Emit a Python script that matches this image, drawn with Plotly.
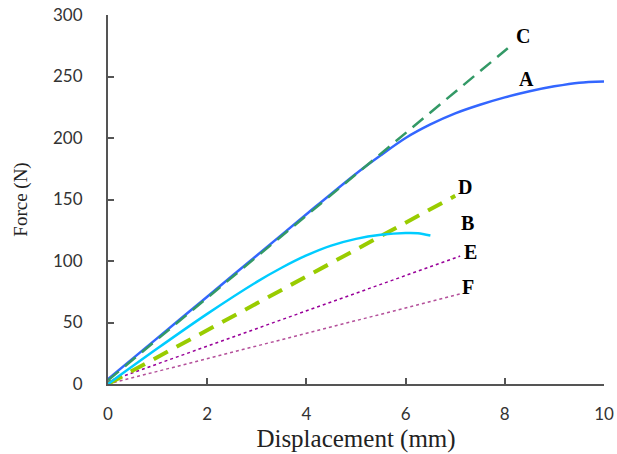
import plotly.graph_objects as go

# ---- data ----
A_x = [0, 1, 2, 3, 4, 5, 5.5, 6, 6.5, 7, 7.5, 8, 8.5, 9, 9.5, 10]
A_y = [4, 37.5, 71, 104.5, 138, 171, 186, 200, 211, 220, 227, 233, 238, 242, 245, 246]

B_x = [0, 1, 2, 3, 3.5, 4, 4.5, 5, 5.5, 6, 6.25, 6.5]
B_y = [0, 29, 57, 83, 94.5, 104.5, 112.5, 118, 121.3, 122.8, 122.6, 120.7]

C_x = [0, 8.06]
C_y = [3, 273]

D_x = [0, 7.0]
D_y = [0, 153]

E_x = [0, 7.1]
E_y = [2, 104]

F_x = [0, 7.13]
F_y = [0, 73.5]

label_names = ["C", "A", "D", "B", "E", "F"]
label_x = [8.37, 8.44, 7.2, 7.24, 7.3, 7.26]
label_y = [283, 248, 160, 131, 107, 79]

x_ticks = [0, 2, 4, 6, 8, 10]
y_ticks = [0, 50, 100, 150, 200, 250, 300]

fig = go.Figure()
fig.add_trace(go.Scatter(x=F_x, y=F_y, mode="lines",
                         line=dict(color="#B4509A", width=1.5, dash="3px,3px")))
fig.add_trace(go.Scatter(x=E_x, y=E_y, mode="lines",
                         line=dict(color="#990099", width=1.5, dash="3px,3px")))
fig.add_trace(go.Scatter(x=D_x, y=D_y, mode="lines",
                         line=dict(color="#99CC00", width=4, dash="16px,10px")))
fig.add_trace(go.Scatter(x=B_x, y=B_y, mode="lines", line_shape="spline",
                         line=dict(color="#00CCFF", width=2.5, smoothing=0.8)))
fig.add_trace(go.Scatter(x=A_x, y=A_y, mode="lines", line_shape="spline",
                         line=dict(color="#3366FF", width=2.5, smoothing=0.8)))
fig.add_trace(go.Scatter(x=C_x, y=C_y, mode="lines",
                         line=dict(color="#339966", width=2.5, dash="14px,8px")))

for name, lx, ly in zip(label_names, label_x, label_y):
    fig.add_annotation(x=lx, y=ly, text="<b>" + name + "</b>", showarrow=False,
                       font=dict(family="Liberation Serif", size=20, color="black"),
                       xanchor="center", yanchor="middle")

axis_common = dict(
    showline=True, linecolor="#555555", linewidth=2,
    ticks="inside", ticklen=6, tickcolor="#555555", tickwidth=1.5,
    showgrid=False, zeroline=False, automargin=False,
    tickfont=dict(family="Lato, DejaVu Sans", size=17, color="#333333"),
)

fig.update_xaxes(range=[0, 10], tickvals=x_ticks, ticklabelstandoff=14,
                 title=dict(text="Displacement (mm)",
                            font=dict(family="Liberation Serif", size=25, color="#222222"),
                            standoff=6),
                 **axis_common)
fig.update_yaxes(range=[0, 300], tickvals=y_ticks, ticklabelstandoff=20,
                 title=dict(text="Force (N)",
                            font=dict(family="Liberation Serif", size=19, color="#222222"),
                            standoff=20),
                 **axis_common)

fig.update_layout(
    width=617, height=454,
    margin=dict(l=108, r=13, t=15, b=70),
    plot_bgcolor="white", paper_bgcolor="white",
    showlegend=False,
)

fig.write_html("out.html")
